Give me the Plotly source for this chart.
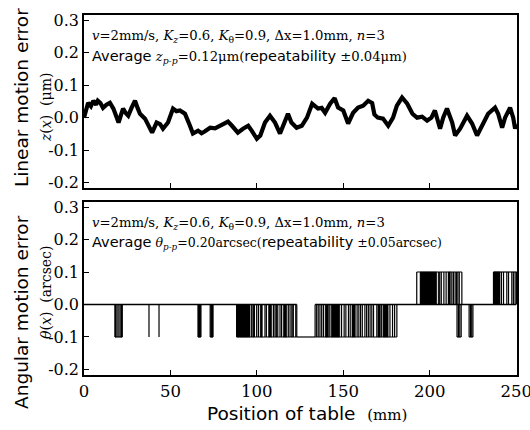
import plotly.graph_objects as go
from plotly.subplots import make_subplots

# ---------------- data ----------------
# Linear motion error z(x) (um) vs position (mm)
pos_lin = [0, 1, 2.4, 4, 5.4, 7, 8, 9.5, 11, 13, 15, 17, 18.5, 20, 21.5, 22.6, 24, 25.6,
           27.5, 29.5, 31, 32.4, 35.3, 37.5, 39.4, 42, 44, 45.7, 48.6, 51.5, 53.5, 55.5,
           58.4, 61.3, 63, 66, 68, 70, 73, 75.8, 78.7, 81.6, 83.3, 85.6, 89, 92, 95, 97,
           100, 102, 104.7, 107.6, 110.5, 113.4, 115, 118, 120, 123, 126, 129, 132, 135.4,
           137.5, 139.5, 142.4, 145, 147, 150, 152.8, 155.7, 158.6, 161.5, 164.4, 166.7,
           168, 170, 173, 176, 178.8, 181, 184, 187, 190, 192.7, 195.6, 198.5, 201, 203,
           206, 207.8, 210, 213, 214.7, 217.6, 221.6, 224.5, 227.4, 230, 233.8, 237.8,
           239.6, 241.9, 243.6, 246.5, 248.3, 249.4, 250]
z_lin = [0.0, 0.02, 0.046, 0.035, 0.052, 0.04, 0.052, 0.045, 0.03, 0.04, 0.046, 0.028,
         0.005, -0.015, 0.01, 0.028, 0.015, 0.006, 0.03, 0.052, 0.03, 0.012, -0.003, -0.03,
         -0.046, -0.015, -0.02, -0.034, -0.015, 0.028, 0.02, 0.022, 0.012, -0.025, -0.049,
         -0.04, -0.048, -0.042, -0.031, -0.033, -0.025, -0.015, -0.012, -0.025, -0.046,
         -0.034, -0.025, -0.04, -0.065, -0.055, -0.015, 0.006, -0.015, -0.049, -0.025,
         0.012, -0.015, -0.031, -0.025, 0.0, 0.043, 0.028, 0.03, 0.015, 0.043, 0.06, 0.031,
         0.022, -0.018, 0.015, 0.031, 0.037, 0.052, 0.045, 0.01, 0.0, -0.003, -0.025, 0.0,
         0.037, 0.062, 0.043, 0.012, 0.0, 0.003, -0.009, 0.0, 0.022, -0.034, 0.0, 0.028,
         -0.015, -0.055, -0.034, 0.006, -0.018, -0.055, -0.025, 0.012, 0.031, 0.012,
         -0.031, 0.0, 0.031, 0.0, -0.034, -0.02]

# Angular motion error theta(x) (arcsec): quantised step signal (0 / +-0.1)
# regions where the signal chatters between 0 and a level: (start, end, level)
theta_bands = [(17.9, 22.1, -0.1), (66.0, 67.6, -0.1), (73.0, 74.6, -0.1),
               (88.3, 123.1, -0.1), (133.7, 181.0, -0.1), (192.5, 218.6, 0.1),
               (215.8, 218.2, -0.1), (222.8, 225.0, -0.1), (236.9, 250.4, 0.1)]
# regions where the signal stays at the level (no return to 0)
theta_flat = [(123.1, 133.7, -0.1)]
# positions of individual transitions (vertical strokes) to -0.1
theta_ticks_neg = [17.9, 18.5, 19.6, 20.3, 21.4, 22.1, 37.6, 43.4, 66.0, 67.6, 73.0, 74.6,
                   88.3, 97.0, 98.6, 99.9, 100.9, 104.7, 105.5, 109.6, 110.5, 112.1, 113.4,
                   114.3, 118.2, 119.2, 121.1, 122.5, 123.1, 133.7, 134.6, 135.5, 136.5,
                   137.5, 138.5, 142.2, 149.0, 150.5, 151.5, 153.0, 154.0, 158.0, 159.0,
                   160.0, 161.0, 162.5, 163.5, 164.5, 165.5, 166.5, 167.5, 169.4, 172.2,
                   177.0, 178.5, 179.7, 181.0, 215.8, 216.6, 217.4, 218.2, 222.8, 223.6,
                   224.3, 225.0]
# positions of individual transitions to +0.1
theta_ticks_pos = [192.5, 205.2, 205.8, 206.7, 208.2, 209.5, 210.8, 212.8, 213.7, 214.7,
                   215.5, 216.3, 217.1, 218.6, 236.9, 241.5, 242.7, 244.6, 245.6, 247.5,
                   248.4, 249.4, 250.2]
# spans of very dense switching (appear solid black)
theta_solid = [(18.0, 18.6, -0.1), (21.3, 22.1, -0.1), (66.0, 67.6, -0.1),
               (73.3, 74.6, -0.1), (88.3, 96.1, -0.1), (97.6, 98.3, -0.1),
               (101.9, 103.2, -0.1), (106.7, 108.6, -0.1), (111.0, 111.6, -0.1),
               (115.3, 117.3, -0.1), (120.0, 120.7, -0.1),
               (139.5, 141.5, -0.1), (143.0, 148.0, -0.1), (155.0, 157.0, -0.1),
               (170.0, 171.5, -0.1), (173.0, 176.0, -0.1), (194.4, 204.1, 0.1),
               (211.0, 212.0, 0.1), (236.9, 240.7, 0.1)]

x_ticks = [0, 50, 100, 150, 200, 250]
y_ticks = [-0.2, -0.1, 0.0, 0.1, 0.2, 0.3]
y_ticktext = ["-0.2", "-0.1", "0.0", "0.1", "0.2", "0.3"]

# ---------------- figure ----------------
SERIF = "DejaVu Serif"
SANS = "DejaVu Sans"

fig = make_subplots(rows=2, cols=1, shared_xaxes=False, vertical_spacing=0.04)

fig.add_trace(go.Scatter(x=pos_lin, y=z_lin, mode="lines",
                         line=dict(color="black", width=4.2), showlegend=False),
              row=1, col=1)

# bottom: baseline at 0 except flat regions
X_MIN, X_MAX = 0, 250
base_x, base_y = [], []
cur = X_MIN
for (a, b, lv) in sorted(theta_flat):
    base_x += [cur, a, None]
    base_y += [0, 0, None]
    cur = b
base_x += [cur, X_MAX]
base_y += [0, 0]

lx, ly = [], []
for (a, b, lv) in theta_bands + theta_flat:
    lx += [a, b, None]
    ly += [lv, lv, None]
for t in theta_ticks_neg:
    lx += [t, t, None]
    ly += [0, -0.1, None]
for t in theta_ticks_pos:
    lx += [t, t, None]
    ly += [0, 0.1, None]

fig.add_trace(go.Scatter(x=base_x, y=base_y, mode="lines",
                         line=dict(color="black", width=1.3), showlegend=False),
              row=2, col=1)
fig.add_trace(go.Scatter(x=lx, y=ly, mode="lines",
                         line=dict(color="black", width=1.2), showlegend=False),
              row=2, col=1)

sx, sy = [], []
for (a, b, lv) in theta_solid:
    sx += [a, b, b, a, a, None]
    sy += [0, 0, lv, lv, 0, None]
fig.add_trace(go.Scatter(x=sx, y=sy, mode="lines", fill="toself",
                         fillcolor="black", line=dict(color="black", width=0.5),
                         showlegend=False),
              row=2, col=1)

axis_common = dict(showline=True, linecolor="black", linewidth=1.5, mirror=True,
                   ticks="inside", ticklen=5, tickwidth=1.2, tickcolor="black",
                   showgrid=False, zeroline=False, automargin=False)

for r in (1, 2):
    fig.update_xaxes(range=[0, 250.5], tickvals=x_ticks, showticklabels=(r == 2),
                     tickfont=dict(family=SERIF, size=16.5, color="black"),
                     ticklabeloverflow="allow",
                     row=r, col=1, **axis_common)
    fig.update_yaxes(range=[-0.217, 0.316], tickvals=y_ticks, ticktext=y_ticktext,
                     tickfont=dict(family=SERIF, size=16, color="black"),
                     ticklabeloverflow="allow",
                     row=r, col=1, **axis_common)

fig.update_layout(
    yaxis=dict(domain=[0.519, 1.0]),
    yaxis2=dict(domain=[0.0, 0.481]),
    width=530, height=430,
    margin=dict(l=84, r=13, t=15, b=55),
    paper_bgcolor="white", plot_bgcolor="white",
)

NB = "\u00a0"
ann = []
# panel texts
line1 = "<i>v</i>=2mm/s, <i>K</i><sub><i>z</i></sub>=0.6, <i>K</i><sub>θ</sub>=0.9, Δx=1.0mm, <i>n</i>=3"
line2a = ("<span style='font-family:DejaVu Sans;font-size:14.5px'>Average</span> "
          "<i>z</i><sub><i>p-p</i></sub>=0.12μm(<span style='font-family:DejaVu Sans;font-size:14.5px'>repeatability</span> ±0.04μm)")
line2b = ("<span style='font-family:DejaVu Sans;font-size:14.5px'>Average</span> "
          "<i>θ</i><sub><i>p-p</i></sub>=0.20arcsec(<span style='font-family:DejaVu Sans;font-size:14.5px'>repeatability</span> ±0.05arcsec)")
for (txt, yp, fs) in [(line1, 0.939, 13.2), (line2a, 0.883, 13.2),
                      (line1, 0.422, 13.2), (line2b, 0.367, 12.5)]:
    ann.append(dict(text=txt, x=0.0139, y=yp, xref="paper", yref="paper",
                    xanchor="left", yanchor="middle", showarrow=False,
                    font=dict(family=SERIF, size=fs, color="black")))
# y titles
ann.append(dict(text="Linear motion error", x=-0.1455, y=0.772, xref="paper", yref="paper",
                textangle=-90, showarrow=False, xanchor="center", yanchor="middle",
                font=dict(family=SANS, size=18.5, color="black")))
ann.append(dict(text="<i>z</i>(<i>x</i>)" + NB + NB + "(μm)", x=-0.088, y=0.744,
                xref="paper", yref="paper", textangle=-90, showarrow=False,
                xanchor="center", yanchor="middle",
                font=dict(family=SERIF, size=14, color="black")))
ann.append(dict(text="Angular motion error", x=-0.1455, y=0.175, xref="paper", yref="paper",
                textangle=-90, showarrow=False, xanchor="center", yanchor="middle",
                font=dict(family=SANS, size=18.5, color="black")))
ann.append(dict(text="<i>θ</i>(<i>x</i>)" + NB + NB + "(arcsec)", x=-0.088, y=0.2306,
                xref="paper", yref="paper", textangle=-90, showarrow=False,
                xanchor="center", yanchor="middle",
                font=dict(family=SERIF, size=14, color="black")))
# x title
ann.append(dict(text="Position of table" + NB + NB + "<span style='font-family:DejaVu Serif;font-size:15px'>(mm)</span>",
                x=0.515, y=-0.1056, xref="paper", yref="paper", showarrow=False,
                xanchor="center", yanchor="middle",
                font=dict(family=SANS, size=18.5, color="black")))
fig.update_layout(annotations=ann)

fig.write_html("out.html")
